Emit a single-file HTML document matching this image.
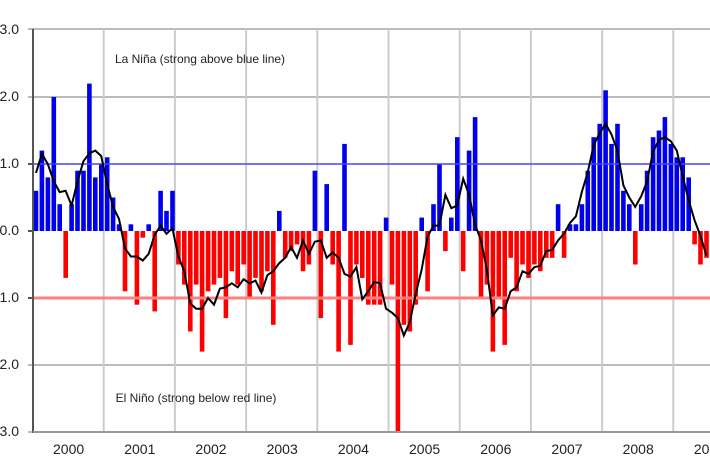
<!DOCTYPE html>
<html><head><meta charset="utf-8"><style>
html,body{margin:0;padding:0;background:#fff;width:710px;height:473px;overflow:hidden}
svg{display:block}
text{font-family:"Liberation Sans",sans-serif;fill:#222}
</style></head><body>
<svg id="s" width="710" height="473" xmlns="http://www.w3.org/2000/svg">
<g id="grid"></g>
<g id="bars"></g>
<line x1="33" y1="164" x2="710" y2="164" stroke="#4444ff" stroke-width="1.5"/>
<line x1="33" y1="298" x2="710" y2="298" stroke="#ff8080" stroke-width="3"/>
<polyline id="ln" fill="none" stroke="#000" stroke-width="2"/>
<line x1="33" y1="29" x2="33" y2="433" stroke="#555" stroke-width="2"/>
<line x1="33" y1="432" x2="710" y2="432" stroke="#999" stroke-width="2"/>
<text x="200" y="63" font-size="12" text-anchor="middle">La Niña (strong above blue line)</text>
<text x="196" y="402" font-size="12" text-anchor="middle">El Niño (strong below red line)</text>
<g id="lab" font-size="14"></g>
</svg>
<script>
var v=[0.6,1.2,0.8,2.0,0.4,-0.7,0.4,0.9,0.9,2.2,0.8,1.0,
1.1,0.5,0.1,-0.9,0.1,-1.1,-0.1,0.1,-1.2,0.6,0.3,0.6,
-0.5,-0.8,-1.5,-0.8,-1.8,-0.9,-0.8,-0.7,-1.3,-0.6,-0.8,-0.5,
-1.0,-0.7,-0.9,-0.6,-1.4,0.3,-0.4,-0.3,-0.2,-0.6,-0.5,0.9,
-1.3,0.7,-0.5,-1.8,1.3,-1.7,-0.5,-0.7,-1.1,-1.1,-1.1,0.2,
-0.8,-3.0,-1.4,-1.5,-1.1,0.2,-0.9,0.4,1.0,-0.3,0.2,1.4,
-0.6,1.2,1.7,-1.0,-0.8,-1.8,-1.0,-1.7,-0.4,-0.9,-0.5,-0.7,
-0.5,-0.6,-0.4,-0.4,0.4,-0.4,0.1,0.1,0.4,0.9,1.4,1.6,
2.1,1.3,1.6,0.6,0.4,-0.5,0.4,0.9,1.4,1.5,1.7,1.3,
1.1,1.1,0.8,-0.2,-0.5,-0.4];
var NS="http://www.w3.org/2000/svg";
function el(p,t,a,txt){var e=document.createElementNS(NS,t);for(var k in a)e.setAttribute(k,a[k]);if(txt)e.textContent=txt;document.getElementById(p).appendChild(e);}
var Z=231,U=67,W=71.2/12;
[29,97,365,432].forEach(function(y){el("grid","line",{x1:28,y1:y,x2:710,y2:y,stroke:"#bbb","stroke-width":2});});
[164,231,298].forEach(function(y){el("grid","line",{x1:28,y1:y,x2:33,y2:y,stroke:"#555","stroke-width":2});});
for(var k=1;k<=9;k++){var x=33+71.2*k-0.5;el("grid","line",{x1:x,y1:29,x2:x,y2:432,stroke:"#ccc","stroke-width":2});}
var yl=["3.0","2.0","1.0","0.0","-1.0","-2.0","-3.0"];
yl.forEach(function(t,i){el("lab","text",{x:19,y:29+i*67+5,"text-anchor":"end"},t);});
for(var k=0;k<10;k++){el("lab","text",{x:33+71.2*k+35.6,y:454,"text-anchor":"middle",fill:"#111"},String(2000+k));}
v.forEach(function(d,i){var x=33+W*i+0.7;var h=Math.abs(d)*U;
el("bars","rect",{x:x.toFixed(1),y:(d>=0?Z-h:Z).toFixed(1),width:4.6,height:h.toFixed(1),fill:d>=0?"#0000ee":"#ff0000"});});
var pts=[];for(var i=0;i<v.length;i++){var s=0,n=0;for(var j=i-2;j<=i+2;j++){if(j>=0&&j<v.length){s+=v[j];n++;}}var m=s/n;pts.push((33+W*(i+0.5)).toFixed(1)+","+(Z-m*U).toFixed(1));}
document.getElementById("ln").setAttribute("points",pts.join(" "));
</script>
</body></html>
